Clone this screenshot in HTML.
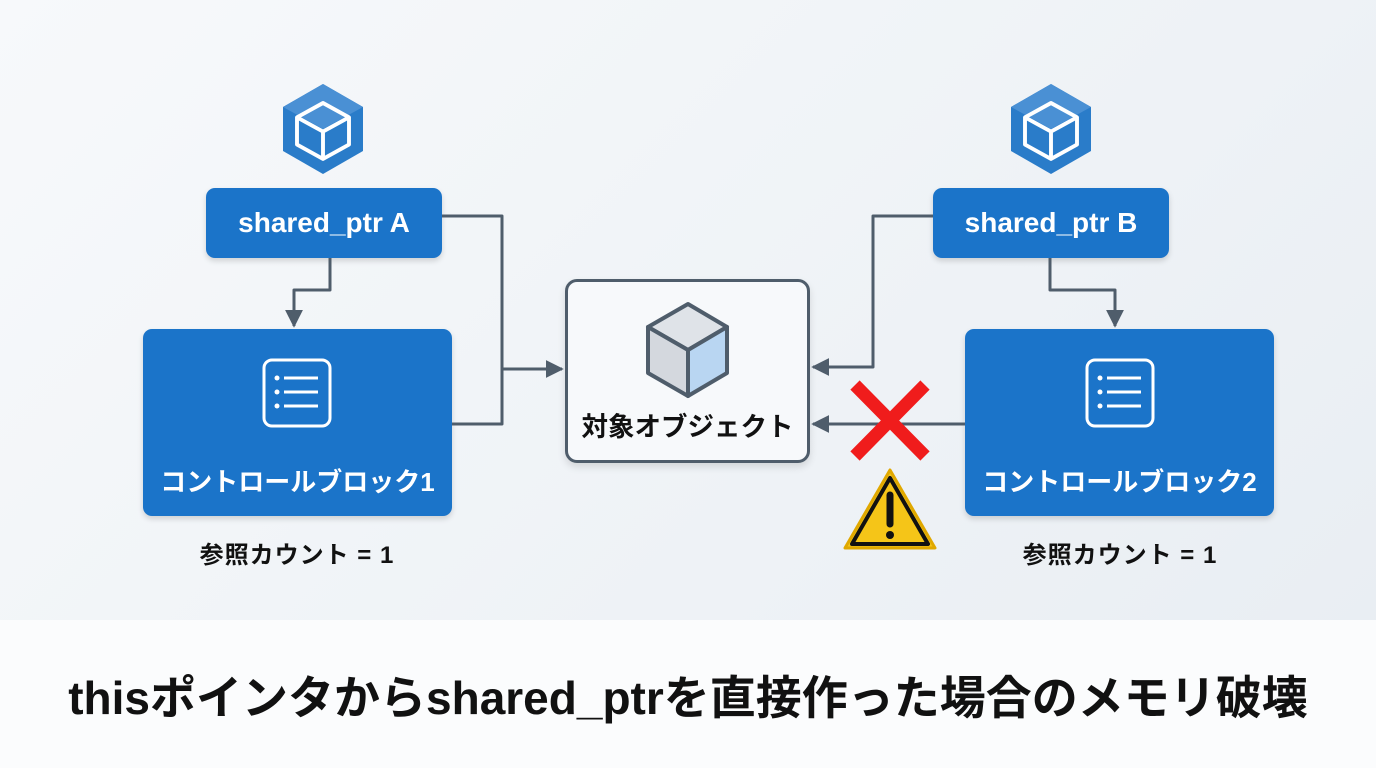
<!DOCTYPE html>
<html><head><meta charset="utf-8"><style>
html,body{margin:0;padding:0}
body{width:1376px;height:768px;overflow:hidden;background:linear-gradient(135deg,#f7f9fb 0%,#eef2f6 60%,#e8edf2 100%);font-family:"Liberation Sans","Noto Sans CJK JP",sans-serif;position:relative}
.bl{position:absolute;background:#1b74c9;border-radius:9px;color:#fff;font-weight:bold;display:flex;align-items:center;justify-content:center;box-shadow:0 3px 6px rgba(0,0,0,.15)}
.lbl{position:absolute;font-weight:bold;font-size:24px;letter-spacing:1px;color:#111;text-align:center;width:300px}
</style></head><body>
<div class="bl" style="left:206px;top:188px;width:236px;height:70px;font-size:28px">shared_ptr A</div>
<div class="bl" style="left:933px;top:188px;width:236px;height:70px;font-size:28px">shared_ptr B</div>
<div class="bl" style="left:143px;top:329px;width:309px;height:187px;font-size:26px;align-items:flex-end;padding-bottom:17px;box-sizing:border-box">コントロールブロック1</div>
<div class="bl" style="left:965px;top:329px;width:309px;height:187px;font-size:26px;align-items:flex-end;padding-bottom:17px;box-sizing:border-box">コントロールブロック2</div>
<div style="position:absolute;left:565px;top:279px;width:245px;height:184px;box-sizing:border-box;border:3px solid #4f5d6b;border-radius:12px;background:#f7f9fb;box-shadow:0 4px 8px rgba(0,0,0,.12)"></div>
<div style="position:absolute;left:565px;top:405px;width:245px;text-align:center;font-weight:bold;font-size:26.5px;color:#111">対象オブジェクト</div>
<div class="lbl" style="left:147px;top:535px">参照カウント = 1</div>
<div class="lbl" style="left:970px;top:535px">参照カウント = 1</div>
<div style="position:absolute;left:0;top:620px;width:1376px;height:148px;background:#fbfcfd"></div>
<div style="position:absolute;left:0;top:662px;width:1376px;text-align:center;font-weight:bold;font-size:46px;color:#111">thisポインタからshared_ptrを直接作った場合のメモリ破壊</div>
<svg width="1376" height="768" style="position:absolute;left:0;top:0">
<defs>
<marker id="a" viewBox="0 0 10 10" refX="9" refY="5" markerWidth="18" markerHeight="18" markerUnits="userSpaceOnUse" orient="auto"><path d="M0,0 L10,5 L0,10 z" fill="#4f5d6b"/></marker></defs>
<g fill="none" stroke="#4f5d6b" stroke-width="3" stroke-linejoin="round">
<path d="M330,258 V290 H294 V326" marker-end="url(#a)"/>
<path d="M442,216 H502 V424 H452"/>
<path d="M502,369 H562" marker-end="url(#a)"/>
<path d="M933,216 H873 V367 H813" marker-end="url(#a)"/>
<path d="M1050,258 V290 H1115 V326" marker-end="url(#a)"/>
<path d="M965,424 H813" marker-end="url(#a)"/>
</g>
<g transform="translate(323,129)"><polygon points="0,-45 40,-22 40,22 0,45 -40,22 -40,-22" fill="#2a7cc9"/><polygon points="0,-45 40,-22 0,0 -40,-22" fill="#4a90d4"/>
<g fill="none" stroke="#fff" stroke-width="3" stroke-linejoin="round" transform="scale(1.3)"><polygon points="0,-20 20,-9 20,12 0,23 -20,12 -20,-9"/><path d="M-20,-9 L0,2 L20,-9 M0,2 V23"/></g></g>
<g transform="translate(1051,129)"><polygon points="0,-45 40,-22 40,22 0,45 -40,22 -40,-22" fill="#2a7cc9"/><polygon points="0,-45 40,-22 0,0 -40,-22" fill="#4a90d4"/>
<g fill="none" stroke="#fff" stroke-width="3" stroke-linejoin="round" transform="scale(1.3)"><polygon points="0,-20 20,-9 20,12 0,23 -20,12 -20,-9"/><path d="M-20,-9 L0,2 L20,-9 M0,2 V23"/></g></g>
<g fill="none" stroke="#fff" stroke-width="3"><rect x="264" y="360" width="66" height="66" rx="8"/><path d="M284,378 H318 M284,392 H318 M284,406 H318"/></g>
<g fill="#fff"><circle cx="277" cy="378" r="2.5"/><circle cx="277" cy="392" r="2.5"/><circle cx="277" cy="406" r="2.5"/></g>
<g fill="none" stroke="#fff" stroke-width="3"><rect x="1087" y="360" width="66" height="66" rx="8"/><path d="M1107,378 H1141 M1107,392 H1141 M1107,406 H1141"/></g>
<g fill="#fff"><circle cx="1100" cy="378" r="2.5"/><circle cx="1100" cy="392" r="2.5"/><circle cx="1100" cy="406" r="2.5"/></g>
<g stroke="#4f5d6b" stroke-width="4" stroke-linejoin="round"><polygon points="688,304 727,327 688,350 648,327" fill="#dfe3e8"/><polygon points="648,327 688,350 688,396 648,373" fill="#d4d8de"/><polygon points="688,350 727,327 727,373 688,396" fill="#b9d6f2"/></g>
<g stroke="#f01c1c" stroke-width="13"><path d="M855,385 L925,456 M925,385 L855,456"/></g>
<path d="M890,470 L935,548 L845,548 Z" fill="#f5c518" stroke="#e0a800" stroke-width="3" stroke-linejoin="round"/>
<path d="M890,478 L928,544 L852,544 Z" fill="none" stroke="#111" stroke-width="4" stroke-linejoin="round"/>
<path d="M890,495 V524" stroke="#111" stroke-width="7" stroke-linecap="round"/><circle cx="890" cy="535" r="4" fill="#111"/>
</svg>
</body></html>
